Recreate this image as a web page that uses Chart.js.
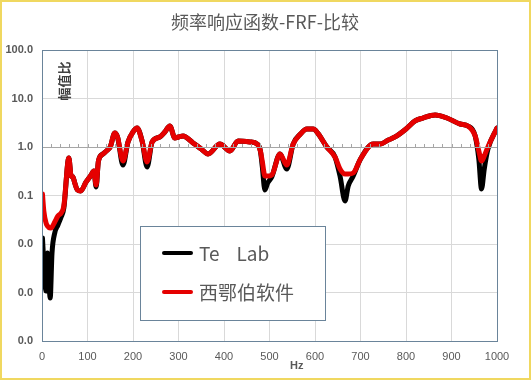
<!DOCTYPE html>
<html>
<head>
<meta charset="utf-8">
<title>频率响应函数-FRF-比较</title>
<script src="https://cdn.jsdelivr.net/npm/chart.js@4.4.1/dist/chart.umd.min.js"></script>
<style>
    html, body { margin: 0; padding: 0; background: #fff; }
    #wrap { width: 531px; height: 380px; }
</style>
</head>
<body>
<div id="wrap"><canvas id="frfChart" width="531" height="380"></canvas></div>
<script>
// --- DATA ---
const chartTitle = '频率响应函数-FRF-比较';
const yAxisTitle = '幅值比';
const xAxisTitle = 'Hz';
const seriesNames = ['Te    Lab', '西鄂伯软件'];

const freqHz = [
    1, 4, 9, 12, 18, 22, 28, 35, 42, 48,
    59, 64, 68, 72, 78, 85, 97, 108, 114, 119,
    124, 134, 144, 150, 160, 166, 178, 189, 200, 209,
    220, 231, 242, 259, 270, 281, 292, 300, 310, 332,
    350, 365, 391, 413, 431, 457, 473, 480, 484, 490,
    496, 505, 523, 538, 552, 568, 582, 596, 606, 626,
    644, 655, 666, 673, 684, 700, 728, 743, 761, 776,
    800, 820, 837, 864, 890, 919, 936, 952, 960, 966,
    972, 980, 1000
];

const testLabAmp = [
    0.0133, 0.00406, 0.00107, 0.00652, 0.00077, 0.00652, 0.0169, 0.0247, 0.036, 0.0552,
    0.593, 0.252, 0.241, 0.181, 0.13, 0.124, 0.19, 0.265, 0.32, 0.15,
    0.514, 0.718, 0.867, 1.0, 1.94, 1.61, 0.425, 1.27, 2.04, 2.46,
    1.33, 0.387, 1.27, 1.61, 2.04, 2.71, 1.53, 1.61, 1.69, 1.21,
    0.91, 0.718, 1.15, 0.83, 1.33, 1.27, 1.15, 0.83, 0.406, 0.13,
    0.181, 0.241, 0.718, 0.352, 1.15, 1.85, 2.35, 2.35, 1.94, 1.0,
    0.622, 0.252, 0.077, 0.157, 0.252, 0.566, 1.15, 1.15, 1.39, 1.61,
    2.35, 3.44, 3.96, 4.57, 3.96, 2.98, 2.71, 1.69, 0.566, 0.136,
    0.352, 0.9, 2.46
];

const softwareAmp = [
    0.107, 0.048, 0.027, 0.0235, 0.0214, 0.0224, 0.0284, 0.0378, 0.0436, 0.0608,
    0.593, 0.252, 0.241, 0.181, 0.13, 0.124, 0.19, 0.265, 0.32, 0.164,
    0.514, 0.718, 0.867, 1.0, 1.94, 1.61, 0.514, 1.27, 2.04, 2.46,
    1.33, 0.491, 1.27, 1.61, 2.04, 2.71, 1.53, 1.61, 1.69, 1.21,
    0.91, 0.718, 1.15, 0.83, 1.33, 1.27, 1.15, 0.83, 0.514, 0.252,
    0.252, 0.265, 0.718, 0.425, 1.15, 1.85, 2.35, 2.35, 1.94, 1.0,
    0.622, 0.352, 0.277, 0.277, 0.291, 0.566, 1.15, 1.15, 1.39, 1.61,
    2.35, 3.44, 3.96, 4.57, 3.96, 2.98, 2.71, 1.69, 0.83, 0.514,
    0.652, 1.0, 2.46
];

const yTickValues = [0.0001, 0.001, 0.01, 0.1, 1, 10, 100];
const yTickLabels = ['0.0', '0.0', '0.0', '0.1', '1.0', '10.0', '100.0'];

// --- STYLE ---
const textGray = '#595959';
const frameBlue = '#6a849a';
const gridGray = '#d9d9d9';
const cjkFont = "'Noto Sans CJK SC', 'Liberation Sans', sans-serif";
const tickFont = "'Liberation Sans', 'DejaVu Sans', sans-serif";

const toPoints = (values) => freqHz.map((f, i) => ({ x: f, y: values[i] }));

// --- DECORATION PLUGIN: title, axis titles, frame, legend box ---
const decorPlugin = {
    id: 'decor',
    beforeDraw(chart) {
        const ctx = chart.ctx;
        ctx.save();
        ctx.fillStyle = '#fff';
        ctx.fillRect(0, 0, chart.width, chart.height);
        ctx.restore();
    },
    afterDatasetsDraw(chart) {
        const { ctx, chartArea: a, scales: { x, y } } = chart;
        ctx.save();

        // minor ticks on the 1.0 line
        const y1 = y.getPixelForValue(1);
        ctx.strokeStyle = '#a6a6a6';
        ctx.lineWidth = 1;
        ctx.beginPath();
        ctx.moveTo(a.left, y1 + 0.5);
        ctx.lineTo(a.right, y1 + 0.5);
        for (let f = 20; f < 1000; f += 20) {
            const px = Math.round(x.getPixelForValue(f)) + 0.5;
            ctx.moveTo(px, y1 - 3);
            ctx.lineTo(px, y1 + 0.5);
        }
        ctx.stroke();

        // plot border
        ctx.strokeStyle = frameBlue;
        ctx.lineWidth = 1;
        ctx.strokeRect(Math.round(a.left) + 0.5, Math.round(a.top) + 0.5,
            Math.round(a.right - a.left), Math.round(a.bottom - a.top));

        // legend box
        const lx = 140, ly = 226, lw = 185, lh = 94;
        ctx.fillStyle = '#fff';
        ctx.fillRect(lx, ly, lw, lh);
        ctx.strokeStyle = frameBlue;
        ctx.strokeRect(lx + 0.5, ly + 0.5, lw, lh);
        const rows = [253, 292];
        chart.data.datasets.forEach((ds, i) => {
            ctx.strokeStyle = ds.borderColor;
            ctx.lineWidth = 4;
            ctx.lineCap = 'round';
            ctx.beginPath();
            ctx.moveTo(164, rows[i]);
            ctx.lineTo(191, rows[i]);
            ctx.stroke();
            ctx.fillStyle = textGray;
            ctx.font = '19px ' + cjkFont;
            ctx.textAlign = 'left';
            ctx.textBaseline = 'middle';
            ctx.fillText(ds.label, 199, rows[i] + 1);
        });

        // y title inside the plot
        ctx.save();
        ctx.translate(64, 81);
        ctx.rotate(-Math.PI / 2);
        ctx.fillStyle = '#404040';
        ctx.font = 'bold 13px ' + cjkFont;
        ctx.textAlign = 'center';
        ctx.textBaseline = 'middle';
        ctx.fillText(yAxisTitle, 0, 0);
        ctx.restore();

        // chart title
        ctx.fillStyle = textGray;
        ctx.font = '18px ' + cjkFont;
        ctx.textAlign = 'center';
        ctx.textBaseline = 'middle';
        ctx.fillText(chartTitle, 265, 22);

        // x title
        ctx.font = 'bold 11px ' + tickFont;
        ctx.fillText(xAxisTitle, x.getPixelForValue(560), 366);

        // outer frame
        ctx.strokeStyle = '#f0d860';
        ctx.lineWidth = 2;
        ctx.strokeRect(1, 1, chart.width - 2, chart.height - 2);
        ctx.restore();
    }
};

// --- CHART ---
const canvas = document.getElementById('frfChart');
new Chart(canvas, {
    type: 'line',
    data: {
        datasets: [
            {
                label: seriesNames[0],
                data: toPoints(testLabAmp),
                borderColor: '#000000',
                borderWidth: 5,
                order: 1
            },
            {
                label: seriesNames[1],
                data: toPoints(softwareAmp),
                borderColor: '#e50000',
                borderWidth: 5,
                order: 0
            }
        ]
    },
    options: {
        responsive: false,
        animation: false,
        layout: { padding: { top: 50, right: 34, bottom: 0, left: 0 } },
        elements: {
            point: { radius: 0 },
            line: { cubicInterpolationMode: 'monotone', borderJoinStyle: 'round', borderCapStyle: 'round' }
        },
        plugins: {
            legend: { display: false },
            title: { display: false },
            tooltip: { enabled: false }
        },
        scales: {
            x: {
                type: 'linear',
                min: 0,
                max: 1000,
                afterFit: (s) => { s.height = 39; },
                grid: { color: gridGray, drawTicks: false },
                border: { display: false },
                ticks: {
                    stepSize: 100,
                    padding: 9,
                    color: textGray,
                    font: { size: 11, family: tickFont },
                    callback: (value) => String(value)
                }
            },
            y: {
                type: 'logarithmic',
                min: 0.0001,
                max: 100,
                afterFit: (s) => { s.width = 42; },
                afterBuildTicks: (s) => { s.ticks = yTickValues.map(v => ({ value: v })); },
                grid: { color: gridGray, drawTicks: false },
                border: { display: false },
                ticks: {
                    padding: 9,
                    color: textGray,
                    font: { size: 11, weight: 'bold', family: tickFont },
                    callback: (value) => yTickLabels[yTickValues.indexOf(value)]
                }
            }
        }
    },
    plugins: [decorPlugin]
});
</script>
</body>
</html>
